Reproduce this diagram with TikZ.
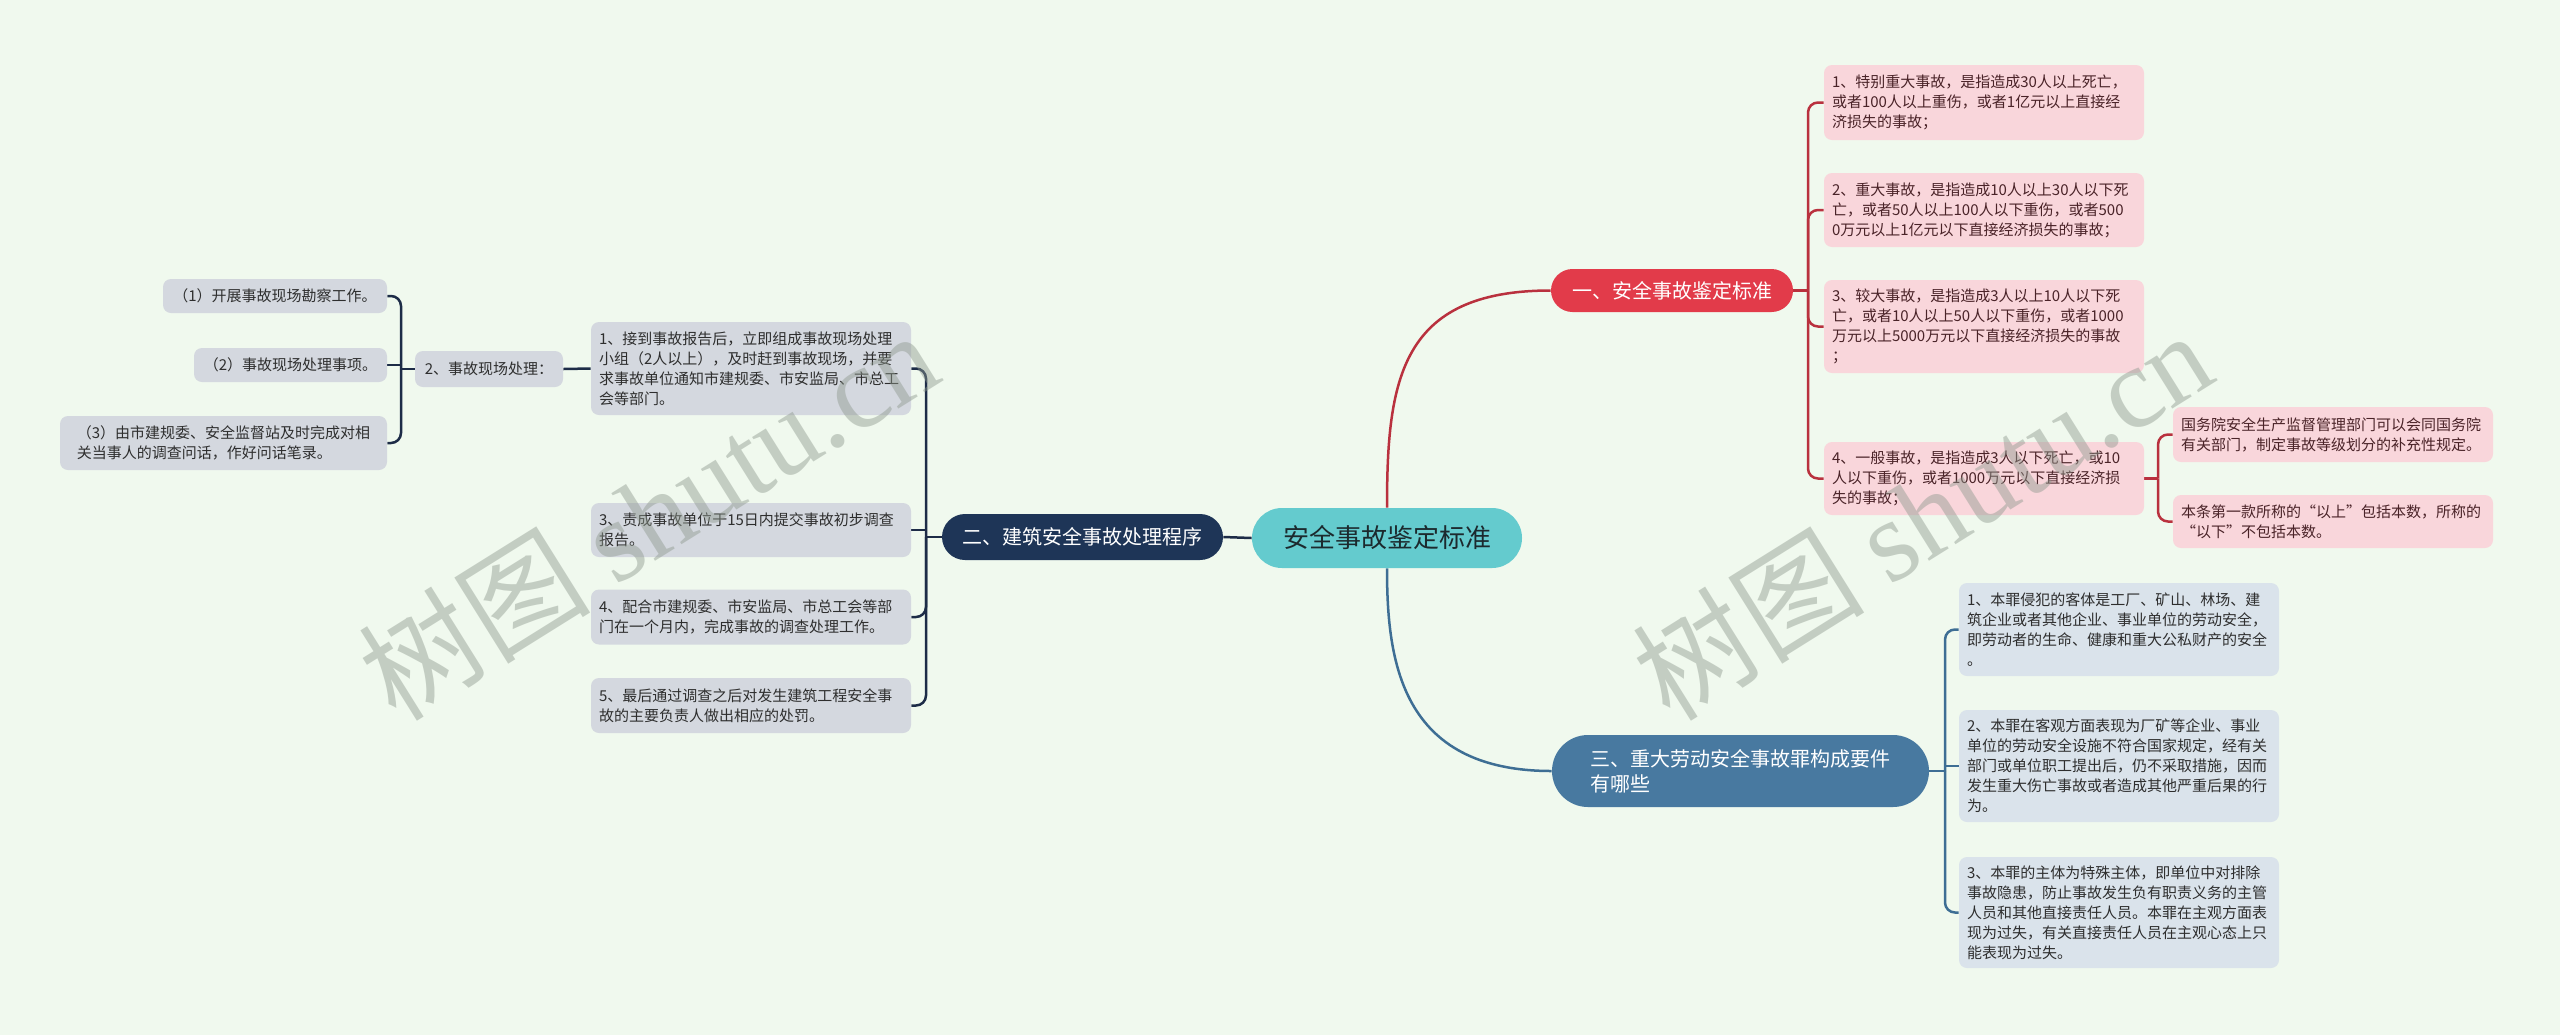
\documentclass[tikz,border=0pt]{standalone}
\usepackage{fontspec}
\setmainfont{Noto Sans CJK SC}
\newfontfamily\wmserif{Liberation Serif}
\newfontfamily\wmcjk{Noto Sans CJK SC}
\pgfdeclarelayer{bglayer}
\pgfdeclarelayer{lines}
\pgfsetlayers{bglayer,lines,main}
\definecolor{bgc}{HTML}{F0F9EE}
\definecolor{rootc}{HTML}{64CBCE}
\definecolor{roottext}{HTML}{1C2A2E}
\definecolor{bonec}{HTML}{E23B4A}
\definecolor{btwoc}{HTML}{1E3557}
\definecolor{bthreec}{HTML}{4879A0}
\definecolor{redl}{HTML}{B9313E}
\definecolor{navyl}{HTML}{1D2C47}
\definecolor{bluel}{HTML}{3E6E94}
\definecolor{pinkc}{HTML}{F9D6DB}
\definecolor{greyc}{HTML}{D4D8DF}
\definecolor{bluegreyc}{HTML}{DAE3EB}
\definecolor{darktext}{HTML}{2E2E2E}
\definecolor{pinktext}{HTML}{4A2328}
\definecolor{wmc}{HTML}{8E998E}
\tikzset{
  boxbase/.style={inner xsep=4pt, inner ysep=0pt, rounded corners=4pt,
    font=\fontsize{7.5pt}{10pt}\selectfont, align=left},
  pinkbox/.style={boxbase, fill=pinkc, text=pinktext, text width=152pt},
  greybox/.style={boxbase, fill=greyc, text=darktext},
  greywide/.style={greybox, text width=152pt},
  bluebox/.style={boxbase, fill=bluegreyc, text=darktext, text width=152pt},
  pill/.style={font=\fontsize{10pt}{12.5pt}\selectfont, text=white, inner sep=0pt, align=left},
  conn/.style={line width=1.25pt},
  redconn/.style={conn, draw=redl},
  navyconn/.style={conn, draw=navyl},
  blueconn/.style={conn, draw=bluel},
  wmark/.style={rotate=32, text=wmc, opacity=0.45, inner sep=0pt,
    font=\wmcjk\fontsize{58pt}{58pt}\selectfont}
}
\begin{document}
\begin{tikzpicture}[x=0.5pt,y=-0.5pt]
\begin{pgfonlayer}{bglayer}
\fill[bgc] (0,0) rectangle (2560,1035);
\end{pgfonlayer}
\useasboundingbox (0,0) rectangle (2560,1035);

% root
\node[fill=rootc, text=roottext, inner sep=0pt, minimum width=135pt, minimum height=30pt,
  rounded corners=15pt, font=\fontsize{13pt}{15pt}\selectfont] (root) at (1387,538) {安全事故鉴定标准};

% branches
\node[pill, fill=bonec, minimum width=121pt, minimum height=21.5pt, rounded corners=10.75pt] (b1) at (1672,290.5) {一、安全事故鉴定标准};
\node[pill, fill=btwoc, minimum width=140.5pt, minimum height=23pt, rounded corners=11.5pt] (b2) at (1082.5,537) {二、建筑安全事故处理程序};
\node[pill, fill=bthreec, minimum width=188.5pt, minimum height=36pt, rounded corners=18pt] (b3) at (1740.5,771) {三、重大劳动安全事故罪构成要件\\有哪些};

% branch 1 children
\node[pinkbox, minimum height=37.5pt] (c1) at (1984,102.5) {1、特别重大事故，是指造成30人以上死亡，\\或者100人以上重伤，或者1亿元以上直接经\\济损失的事故；};
\node[pinkbox, minimum height=37pt] (c2) at (1984,210) {2、重大事故，是指造成10人以上30人以下死\\亡，或者50人以上100人以下重伤，或者500\\0万元以上1亿元以下直接经济损失的事故；};
\node[pinkbox, minimum height=46.5pt] (c3) at (1984,326.5) {3、较大事故，是指造成3人以上10人以下死\\亡，或者10人以上50人以下重伤，或者1000\\万元以上5000万元以下直接经济损失的事故\\；};
\node[pinkbox, minimum height=36.5pt] (c4) at (1984,478.5) {4、一般事故，是指造成3人以下死亡，或10\\人以下重伤，或者1000万元以下直接经济损\\失的事故；};
\node[pinkbox, minimum height=27.5pt] (d1) at (2333,434.5) {国务院安全生产监督管理部门可以会同国务院\\有关部门，制定事故等级划分的补充性规定。};
\node[pinkbox, minimum height=26.5pt] (d2) at (2333,521.5) {本条第一款所称的“以上”包括本数，所称的\\“以下”不包括本数。};

% branch 3 children
\node[bluebox, minimum height=46.5pt] (e1) at (2119,629.5) {1、本罪侵犯的客体是工厂、矿山、林场、建\\筑企业或者其他企业、事业单位的劳动安全，\\即劳动者的生命、健康和重大公私财产的安全\\。};
\node[bluebox, minimum height=56pt] (e2) at (2119,766) {2、本罪在客观方面表现为厂矿等企业、事业\\单位的劳动安全设施不符合国家规定，经有关\\部门或单位职工提出后，仍不采取措施，因而\\发生重大伤亡事故或者造成其他严重后果的行\\为。};
\node[bluebox, minimum height=55.5pt] (e3) at (2119,912.5) {3、本罪的主体为特殊主体，即单位中对排除\\事故隐患，防止事故发生负有职责义务的主管\\人员和其他直接责任人员。本罪在主观方面表\\现为过失，有关直接责任人员在主观心态上只\\能表现为过失。};

% branch 2 children
\node[greywide, minimum height=46.5pt] (f1) at (751,368.5) {1、接到事故报告后，立即组成事故现场处理\\小组（2人以上），及时赶到事故现场，并要\\求事故单位通知市建规委、市安监局、市总工\\会等部门。};
\node[greywide, minimum height=27pt] (f3) at (751,530) {3、责成事故单位于15日内提交事故初步调查\\报告。};
\node[greywide, minimum height=27.5pt] (f4) at (751,617) {4、配合市建规委、市安监局、市总工会等部\\门在一个月内，完成事故的调查处理工作。};
\node[greywide, minimum height=27.5pt] (f5) at (751,705.5) {5、最后通过调查之后对发生建筑工程安全事\\故的主要负责人做出相应的处罚。};
\node[greybox, minimum width=74pt, minimum height=18pt] (f2) at (489,369) {2、事故现场处理：};
\node[greybox, minimum width=112pt, minimum height=17pt] (g1) at (275,296) {（1）开展事故现场勘察工作。};
\node[greybox, minimum width=96.5pt, minimum height=17pt] (g2) at (290.5,365) {（2）事故现场处理事项。};
\node[greybox, minimum width=163.5pt, minimum height=27pt] (g3) at (223.5,443) {（3）由市建规委、安全监督站及时完成对相\\关当事人的调查问话，作好问话笔录。};

% junctions
\coordinate (J1) at (1808,290.5);
\coordinate (J2) at (926,537);
\coordinate (J3) at (1945,771);
\coordinate (J4) at (2158,478.5);
\coordinate (J5) at (401,369);

\begin{pgfonlayer}{lines}
% root connectors
\draw[redconn] (root.north) .. controls (1387,380) and (1400,290.5) .. (b1.west);
\draw[blueconn] (root.south) .. controls (1387,660) and (1400,771) .. (b3.west);
\draw[navyconn] (root.west) -- (b2.east);
% branch 1
\draw[redconn] (b1.east) -- (J1);
\foreach \n in {c1,c2,c3,c4} \draw[redconn, rounded corners=5pt] (J1) |- (\n.west);
\draw[redconn] (c4.east) -- (J4);
\foreach \n in {d1,d2} \draw[redconn, rounded corners=5pt] (J4) |- (\n.west);
% branch 3
\draw[blueconn] (b3.east) -- (J3);
\draw[blueconn, rounded corners=5pt] (J3) |- (e1.west);
\draw[blueconn] (J3) -- (J3 |- e2.west) -- (e2.west);
\draw[blueconn, rounded corners=5pt] (J3) |- (e3.west);
% branch 2
\draw[navyconn] (b2.west) -- (J2);
\draw[navyconn, rounded corners=5pt] (J2) |- (f1.east);
\draw[navyconn] (J2) -- (J2 |- f3.east) -- (f3.east);
\draw[navyconn, rounded corners=5pt] (J2) |- (f4.east);
\draw[navyconn, rounded corners=5pt] (J2) |- (f5.east);
\draw[navyconn] (f1.west) -- (f2.east);
\draw[navyconn] (f2.west) -- (J5);
\draw[navyconn, rounded corners=5pt] (J5) |- (g1.east);
\draw[navyconn] (J5) -- (J5 |- g2.east) -- (g2.east);
\draw[navyconn, rounded corners=5pt] (J5) |- (g3.east);
\end{pgfonlayer}

% watermarks
\node[wmark] (wm1) at (648,514) {树图 {\wmserif shutu.cn}};
\node[wmark] (wm2) at (1922,514) {树图 {\wmserif shutu.cn}};
\end{tikzpicture}
\end{document}
